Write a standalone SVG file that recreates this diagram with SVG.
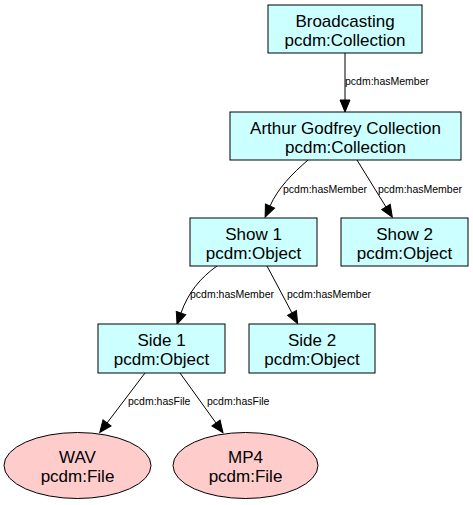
<svg xmlns="http://www.w3.org/2000/svg" width="473" height="505" viewBox="0 0 473 505">
<style>
.box{fill:#ccffff;stroke:#000;stroke-width:1}
.file{fill:#ffcccc;stroke:#000;stroke-width:1}
.nt{font-family:"Liberation Sans",Arial,sans-serif;font-size:17px;fill:#000;text-anchor:middle}
.el{font-family:"Liberation Sans",Arial,sans-serif;font-size:10.5px;fill:#000}
.edge{fill:none;stroke:#000;stroke-width:1}
</style>
<defs>
<marker id="ah" markerUnits="userSpaceOnUse" markerWidth="12" markerHeight="10" refX="0" refY="5" orient="auto" overflow="visible">
<path d="M0,0 L12,5 L0,10 z" fill="#000" stroke="#000" stroke-width="1"/>
</marker>
</defs>
<rect width="473" height="505" fill="#fff"/>
<g id="connectors">
<path class="edge" d="M345,53 L345,100" marker-end="url(#ah)"/>
<text class="el" x="345" y="85">pcdm:hasMember</text>
<path class="edge" d="M308,160 C292,174 278,188 270,206" marker-end="url(#ah)"/>
<text class="el" x="283" y="193">pcdm:hasMember</text>
<path class="edge" d="M357,160 L386,207" marker-end="url(#ah)"/>
<text class="el" x="378" y="193">pcdm:hasMember</text>
<path class="edge" d="M217,266 C200,278 188,293 181,313" marker-end="url(#ah)"/>
<text class="el" x="190" y="298">pcdm:hasMember</text>
<path class="edge" d="M267,266 L292,313" marker-end="url(#ah)"/>
<text class="el" x="287" y="298">pcdm:hasMember</text>
<path class="edge" d="M145,373 L107,423" marker-end="url(#ah)"/>
<text class="el" x="128" y="405">pcdm:hasFile</text>
<path class="edge" d="M180,373 L216,423" marker-end="url(#ah)"/>
<text class="el" x="207" y="405">pcdm:hasFile</text>
</g>
<g id="broadcasting">
<rect class="box" x="268" y="5" width="154" height="48"/>
<text class="nt" x="345" y="26.5">Broadcasting</text>
<text class="nt" x="345" y="45.5">pcdm:Collection</text>
</g>
<g id="arthur">
<rect class="box" x="230" y="112" width="231" height="48"/>
<text class="nt" x="345.5" y="133.5">Arthur Godfrey Collection</text>
<text class="nt" x="345.5" y="152.5">pcdm:Collection</text>
</g>
<g id="show1">
<rect class="box" x="190" y="218" width="127" height="48"/>
<text class="nt" x="253.5" y="239.5">Show 1</text>
<text class="nt" x="253.5" y="258.5">pcdm:Object</text>
</g>
<g id="show2">
<rect class="box" x="341" y="218" width="127" height="48"/>
<text class="nt" x="404.5" y="239.5">Show 2</text>
<text class="nt" x="404.5" y="258.5">pcdm:Object</text>
</g>
<g id="side1">
<rect class="box" x="98" y="324" width="127" height="49"/>
<text class="nt" x="161.5" y="346">Side 1</text>
<text class="nt" x="161.5" y="365">pcdm:Object</text>
</g>
<g id="side2">
<rect class="box" x="249" y="324" width="126" height="49"/>
<text class="nt" x="312" y="346">Side 2</text>
<text class="nt" x="312" y="365">pcdm:Object</text>
</g>
<g id="wav">
<ellipse class="file" cx="77.5" cy="465.5" rx="73.5" ry="33"/>
<text class="nt" x="77.5" y="462.5">WAV</text>
<text class="nt" x="77.5" y="481.5">pcdm:File</text>
</g>
<g id="mp4">
<ellipse class="file" cx="245.5" cy="465.5" rx="72.5" ry="33"/>
<text class="nt" x="245.5" y="462.5">MP4</text>
<text class="nt" x="245.5" y="481.5">pcdm:File</text>
</g>
</svg>
